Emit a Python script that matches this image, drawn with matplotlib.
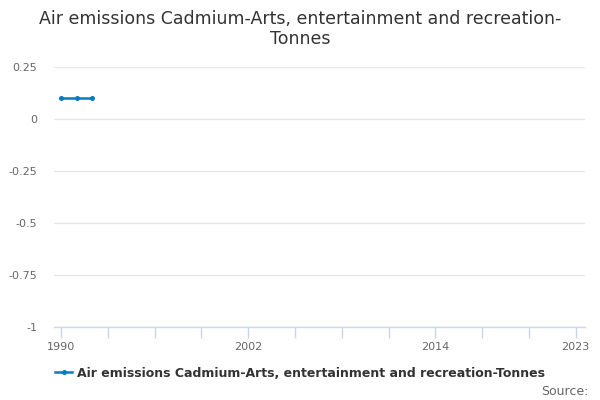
import matplotlib
matplotlib.use("Agg")
import matplotlib.pyplot as plt

# data
years = [1990, 1991, 1992]
values = [0.1, 0.1, 0.1]
xtick_pos = list(range(1990, 2021, 3)) + [2023]
xtick_labels = ["1990", "", "", "", "2002", "", "", "", "2014", "", "", "2023"]
yticks = [0.25, 0, -0.25, -0.5, -0.75, -1]
ytick_labels = ["0.25", "0", "-0.25", "-0.5", "-0.75", "-1"]
series_name = "Air emissions Cadmium-Arts, entertainment and recreation-Tonnes"

plt.rcParams['font.family'] = ['DejaVu Sans']

fig = plt.figure(figsize=(6, 4), dpi=100)
ax = fig.add_axes([0.09, 0.1825, 0.885, 0.65])

ax.plot(years, values, color='#0b7bc1', lw=1.8, marker='o', ms=2.6, label=series_name)

ax.set_xlim(1989.55, 2023.6)
ax.set_ylim(-1, 0.25)
ax.set_yticks(yticks)
ax.set_yticklabels(ytick_labels)
ax.set_xticks(xtick_pos)
ax.set_xticklabels(xtick_labels)

ax.grid(axis='y', color='#e6e6e6', lw=0.9)
ax.set_axisbelow(True)
for s in ['top', 'right', 'left']:
    ax.spines[s].set_visible(False)
ax.spines['bottom'].set_color('#ccd6eb')
ax.spines['bottom'].set_linewidth(1)
ax.tick_params(axis='y', length=0, labelsize=8, labelcolor='#666666', pad=12)
ax.tick_params(axis='x', length=8, width=1, color='#ccd6eb', labelsize=8,
               labelcolor='#666666', pad=3)

fig.text(0.5, 0.975, "Air emissions Cadmium-Arts, entertainment and recreation-\nTonnes",
         ha='center', va='top', fontsize=12.5, color='#333333', linespacing=1.15)

fig.legend(loc='center', bbox_to_anchor=(0.5, 0.067), frameon=False,
           prop={'weight': 'bold', 'size': 9}, labelcolor='#333333',
           handlelength=1.3, handletextpad=0.4)

fig.text(0.98, 0.022, "Source:", ha='right', va='center', fontsize=9, color='#666666')

fig.savefig("out.png", dpi=100)
